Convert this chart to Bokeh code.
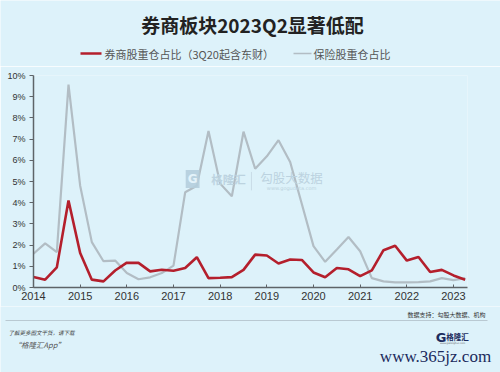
from bokeh.plotting import figure
from bokeh.layouts import column
from bokeh.models import Range1d, FixedTicker, Label
from bokeh.core.properties import value
from bokeh.embed import file_html
from bokeh.resources import INLINE

# ---- data (percent) ----
years = [2014, 2015, 2016, 2017, 2018, 2019, 2020, 2021, 2022, 2023]
year_labels = ["2014", "2015", "2016", "2017", "2018", "2019", "2020", "2021", "2022", "2023"]
y_ticks = [0, 1, 2, 3, 4, 5, 6, 7, 8, 9, 10]
y_labels = ["0%", "1%", "2%", "3%", "4%", "5%", "6%", "7%", "8%", "9%", "10%"]
series_names = ["券商股重仓占比（3Q20起含东财）", "保险股重仓占比"]
title_text = "券商板块2023Q2显著低配"

broker_share = [0.50, 0.37, 0.95, 4.10,
                1.63, 0.37, 0.29, 0.80,
                1.17, 1.16, 0.76, 0.84,
                0.79, 0.92, 1.43, 0.44,
                0.46, 0.49, 0.83, 1.55,
                1.51, 1.13, 1.32, 1.30,
                0.71, 0.48, 0.92, 0.86,
                0.54, 0.81, 1.76, 1.97,
                1.27, 1.44, 0.73, 0.83,
                0.57, 0.37]
insurer_share = [1.59, 2.08, 1.67, 9.57,
                 4.80, 2.14, 1.24, 1.27,
                 0.68, 0.39, 0.48, 0.68,
                 1.03, 4.49, 4.80, 7.38,
                 4.90, 4.30, 7.35, 5.60,
                 6.19, 6.95, 5.92, 3.94,
                 1.95, 1.21, 1.79, 2.38,
                 1.71, 0.44, 0.29, 0.24,
                 0.24, 0.25, 0.29, 0.44,
                 0.35, 0.44]
periods = [(y, q) for y in years for q in (1, 2, 3, 4)][:len(broker_share)]
xs = [y + (q - 1) / 4 for (y, q) in periods]

BG = "#DDF2FA"
RED = "#B41F2C"
GREY = "#B2BDC4"
NAVY = "#1C2C5E"
WM = "#BCD3E0"
CJK = "Noto Sans CJK SC"
W = 500


def blank(height, y0):
    f = figure(width=W, height=height, output_backend="svg", toolbar_location=None,
               x_range=Range1d(0, W), y_range=Range1d(y0 + height, y0),
               x_axis_location=None, y_axis_location=None, min_border=0,
               background_fill_color=BG, border_fill_color=BG, outline_line_color=None,
               frame_align=False)
    f.xgrid.visible = False
    f.ygrid.visible = False
    return f


# ---- header: title + legend ----
top = blank(66, 0)
top.text(x=[252], y=[24], text=[title_text], text_align="center", text_baseline="middle",
         text_font=value(CJK), text_font_style="bold", text_font_size="19px", text_color="#222222")
top.segment(x0=[80], y0=[53], x1=[101], y1=[53], line_color=RED, line_width=2.6)
top.text(x=[104], y=[53], text=[series_names[0]], text_align="left", text_baseline="middle",
         text_font=value(CJK), text_font_size="11px", text_color="#555555")
top.segment(x0=[293], y0=[53], x1=[311], y1=[53], line_color=GREY, line_width=1.6)
top.text(x=[313], y=[53], text=[series_names[1]], text_align="left", text_baseline="middle",
         text_font=value(CJK), text_font_size="11px", text_color="#555555")

# ---- main chart ----
p = figure(width=W, height=240, output_backend="svg", toolbar_location=None,
           x_range=Range1d(2014, 2023.3), y_range=Range1d(0, 10),
           min_border_left=33, min_border_right=33, min_border_top=9, min_border_bottom=19,
           background_fill_color=BG, border_fill_color=BG, outline_line_color=None,
           frame_align=False)
p.xgrid.visible = False
p.ygrid.visible = False

# watermark inside plot
p.segment(x0=[2018.67], y0=[4.58], x1=[2018.67], y1=[5.45], line_color="#C8DCE7", line_width=1)
p.add_layout(Label(x=2017.41, y=5.12, text="G", text_align="center", text_baseline="middle",
                   text_font="DejaVu Sans", text_font_style="bold", text_font_size="12px",
                   text_color="#E4F3FA", background_fill_color="#B5CEDD", background_fill_alpha=0.9,
                   padding=2))
p.add_layout(Label(x=2018.18, y=5.12, text="格隆汇", text_align="center", text_baseline="middle",
                   text_font=CJK, text_font_style="bold", text_font_size="11.5px", text_color=WM))
p.add_layout(Label(x=2019.53, y=5.17, text="勾股大数据", text_align="center", text_baseline="middle",
                   text_font=CJK, text_font_size="12.5px", text_color=WM))
p.add_layout(Label(x=2019.53, y=4.7, text="www.gogudata.com", text_align="center", text_baseline="middle",
                   text_font="DejaVu Sans", text_font_size="5px", text_color=WM))

p.line(xs, insurer_share, line_color=GREY, line_width=2.2)
p.line(xs, broker_share, line_color=RED, line_width=2.6)

p.xaxis.ticker = FixedTicker(ticks=years)
p.xaxis.major_label_overrides = {y: l for y, l in zip(years, year_labels)}
p.xaxis.major_tick_in = 3
p.xaxis.major_tick_out = 0
p.xaxis.minor_tick_line_color = None
p.xaxis.axis_line_color = "#5E6468"
p.xaxis.axis_line_width = 1.5
p.xaxis.major_tick_line_color = "#5E6468"
p.xaxis.major_label_text_font = "Liberation Sans"
p.xaxis.major_label_text_font_size = "11px"
p.xaxis.major_label_text_color = "#333333"
p.xaxis.major_label_standoff = 4

p.yaxis.ticker = FixedTicker(ticks=y_ticks)
p.yaxis.major_label_overrides = {t: l for t, l in zip(y_ticks, y_labels)}
p.yaxis.major_tick_in = 0
p.yaxis.major_tick_out = 4
p.yaxis.minor_tick_line_color = None
p.yaxis.axis_line_color = "#5E6468"
p.yaxis.axis_line_width = 1.5
p.yaxis.major_tick_line_color = "#5E6468"
p.yaxis.major_label_text_font = "Liberation Sans"
p.yaxis.major_label_text_font_size = "9px"
p.yaxis.major_label_text_color = "#333333"
p.yaxis.major_label_standoff = 4

# ---- footer ----
bot = blank(66, 306)
bot.text(x=[485], y=[314], text=["数据支持：勾股大数据、机构"], text_align="right", text_baseline="middle",
         text_font=value(CJK), text_font_size="6px", text_color="#333333")
bot.segment(x0=[5], y0=[320], x1=[487], y1=[320], line_color="#B9C9D2", line_width=1)
bot.text(x=[8], y=[332], text=["了解更多图文干货，请下载"], text_align="left", text_baseline="middle",
         text_font=value(CJK), text_font_style="italic", text_font_size="5.5px", text_color="#444444")
bot.text(x=[13], y=[344], text=["“格隆汇App”"], text_align="left", text_baseline="middle",
         text_font=value(CJK), text_font_style="italic", text_font_size="7.5px", text_color="#555555")
bot.text(x=[440.5], y=[336.5], text=["G"], text_align="center", text_baseline="middle",
         text_font=value("DejaVu Sans"), text_font_style="bold", text_font_size="13px", text_color=NAVY)
bot.text(x=[457], y=[335.5], text=["格隆汇"], text_align="center", text_baseline="middle",
         text_font=value(CJK), text_font_style="bold", text_font_size="7.5px", text_color=NAVY)
bot.text(x=[452], y=[343], text=["www.gelonghui.com"], text_align="center", text_baseline="middle",
         text_font=value("DejaVu Sans"), text_font_size="2.5px", text_color="#666666")
bot.text(x=[435], y=[356], text=["www.365jz.com"], text_align="center", text_baseline="middle",
         text_font=value("Liberation Serif"), text_font_size="17px", text_color="#1B2A5C")

layout = column(top, p, bot, spacing=0)
open("out.html", "w").write(file_html(layout, INLINE))
